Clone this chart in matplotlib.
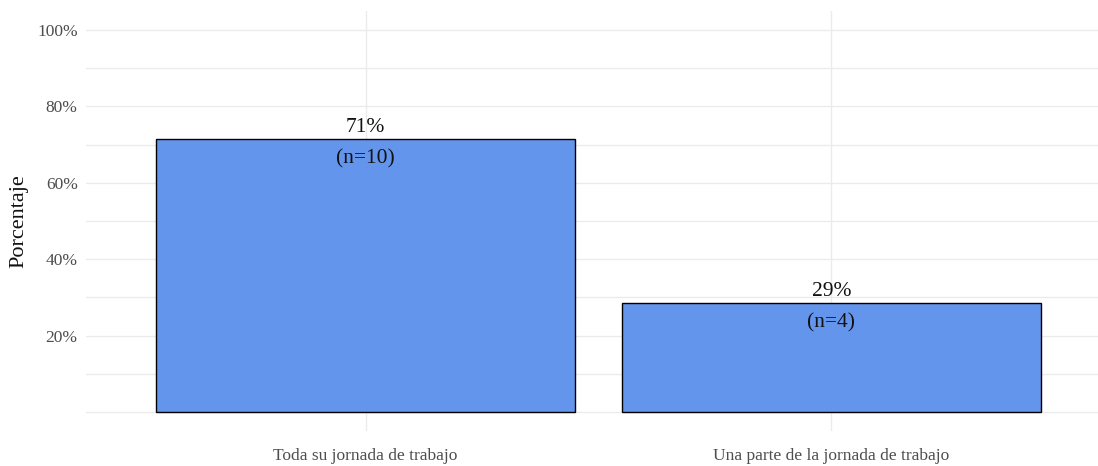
import matplotlib
matplotlib.use("Agg")
import matplotlib.pyplot as plt
from matplotlib.ticker import FixedLocator, FuncFormatter

categories = ["Toda su jornada de trabajo", "Una parte de la jornada de trabajo"]
percentages = [71.43, 28.57]
counts = [10, 4]
pct_labels = ["71%", "29%"]
n_labels = ["(n=10)", "(n=4)"]
major_ticks = [20, 40, 60, 80, 100]
minor_ticks = [0, 10, 30, 50, 70, 90]

plt.rcParams['font.family'] = ['Liberation Serif', 'DejaVu Serif']

W, H = 1098, 466
fig = plt.figure(figsize=(W / 100, H / 100), dpi=100)
left_px, right_px = 86, 1111
top_px, bot_px = 11, 431
ax = fig.add_axes([left_px / W, 1 - bot_px / H, (right_px - left_px) / W, (bot_px - top_px) / H])

x = list(range(1, len(categories) + 1))
ax.bar(x, percentages, width=0.9, color="#6495ED", edgecolor="black", linewidth=1.0, zorder=3)

for xi, p, pl, nl in zip(x, percentages, pct_labels, n_labels):
    ax.annotate(pl, (xi, p), xytext=(0, 1.5), textcoords="offset points",
                ha="center", va="bottom", fontsize=15.5, color="#111111", zorder=4)
    ax.annotate(nl, (xi, p), xytext=(0, -7.5), textcoords="offset points",
                ha="center", va="top", fontsize=15.5, color="#111111", zorder=4)

ax.set_xlim(0.4, 2.6)
ax.set_ylim(-5, 105)
ax.yaxis.set_major_locator(FixedLocator(major_ticks))
ax.yaxis.set_minor_locator(FixedLocator(minor_ticks))
ax.yaxis.set_major_formatter(FuncFormatter(lambda v, _: f"{int(v)}%"))
ax.set_xticks(x)
ax.set_xticklabels(categories)

ax.grid(True, which="major", axis="both", color="#EBEBEB", linewidth=1.0, zorder=0)
ax.grid(True, which="minor", axis="y", color="#EBEBEB", linewidth=1.0, zorder=0)
for s in ax.spines.values():
    s.set_visible(False)
ax.tick_params(axis="both", which="both", length=0, labelsize=12.5, labelcolor="#4D4D4D")
ax.tick_params(axis="y", pad=6)
ax.tick_params(axis="x", pad=12)
ax.set_ylabel("Porcentaje", fontsize=16, color="#111111", labelpad=6)
ax.set_xlabel("")

fig.savefig("out.png", dpi=100, facecolor="white")
